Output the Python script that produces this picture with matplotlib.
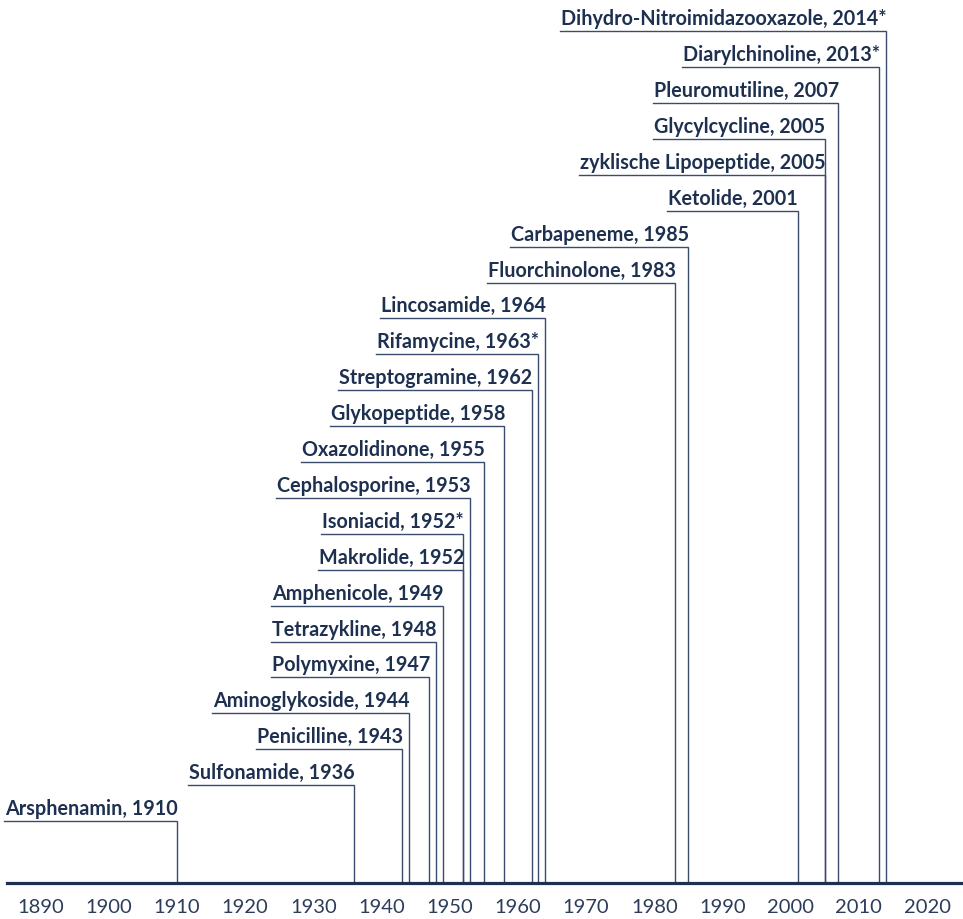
import matplotlib
matplotlib.use("Agg")
import matplotlib.pyplot as plt

# ---- data ----
names = ["Arsphenamin", "Sulfonamide", "Penicilline", "Aminoglykoside", "Polymyxine",
         "Tetrazykline", "Amphenicole", "Makrolide", "Isoniacid", "Cephalosporine",
         "Oxazolidinone", "Glykopeptide", "Streptogramine", "Rifamycine", "Lincosamide",
         "Fluorchinolone", "Carbapeneme", "Ketolide", "zyklische Lipopeptide",
         "Glycylcycline", "Pleuromutiline", "Diarylchinoline",
         "Dihydro-Nitroimidazooxazole"]
years = [1910, 1936, 1943, 1944, 1947, 1948, 1949, 1952, 1952, 1953, 1955, 1958,
         1962, 1963, 1964, 1983, 1985, 2001, 2005, 2005, 2007, 2013, 2014]
marks = ["", "", "", "", "", "", "", "", "*", "", "", "", "", "*", "", "", "", "",
         "", "", "", "*", "*"]
tick_years = list(range(1890, 2021, 10))

# ---- style ----
TEXT_C = "#1e3050"
LINE_C = "#3a4b6c"
TICK_C = "#2c3c5a"
FONT = "Lato"

W, H = 963, 920
fig = plt.figure(figsize=(W / 100, H / 100), dpi=100)
axis_px = 884
left_px = 7
ax = fig.add_axes([left_px / W, (H - axis_px) / H, 1 - left_px / W, axis_px / H])

px_per_year = 6.82
x0_year = 1890 - (40.5 - left_px) / px_per_year
x1_year = 1890 + (W - 40.5) / px_per_year
ax.set_xlim(x0_year, x1_year)

row_px = 35.9
first_px = 62.0
y_bottom = -first_px / row_px
ax.set_ylim(y_bottom, (axis_px - first_px) / row_px)

for s in ["left", "right", "top"]:
    ax.spines[s].set_visible(False)
ax.spines["bottom"].set_color("#1e3050")
ax.spines["bottom"].set_linewidth(2.3)
ax.spines["bottom"].set_zorder(5)
ax.set_yticks([])
ax.set_xticks(tick_years)
ax.set_xticklabels([str(y) for y in tick_years], fontsize=14.5, color=TICK_C,
                   family=FONT, fontweight="normal")
ax.tick_params(axis="x", length=0, pad=11)

texts = []
base_off = 7.0 / row_px
for i, (n, y, m) in enumerate(zip(names, years, marks)):
    t = ax.text(y + 0.1, i + base_off, f"{n}, {y}{m}", ha="right", va="baseline",
                fontsize=14.2, fontweight="bold", color=TEXT_C, family=FONT)
    texts.append(t)

fig.canvas.draw()
r = fig.canvas.get_renderer()
inv = ax.transData.inverted()
for i, (t, y) in enumerate(zip(texts, years)):
    bb = t.get_window_extent(r)
    xl = inv.transform((bb.x0 - 1, 0))[0]
    ax.plot([xl, y, y], [i, i, y_bottom], color=LINE_C, lw=1.0,
            solid_joinstyle="miter", clip_on=False)

fig.savefig("out.png", dpi=100)
